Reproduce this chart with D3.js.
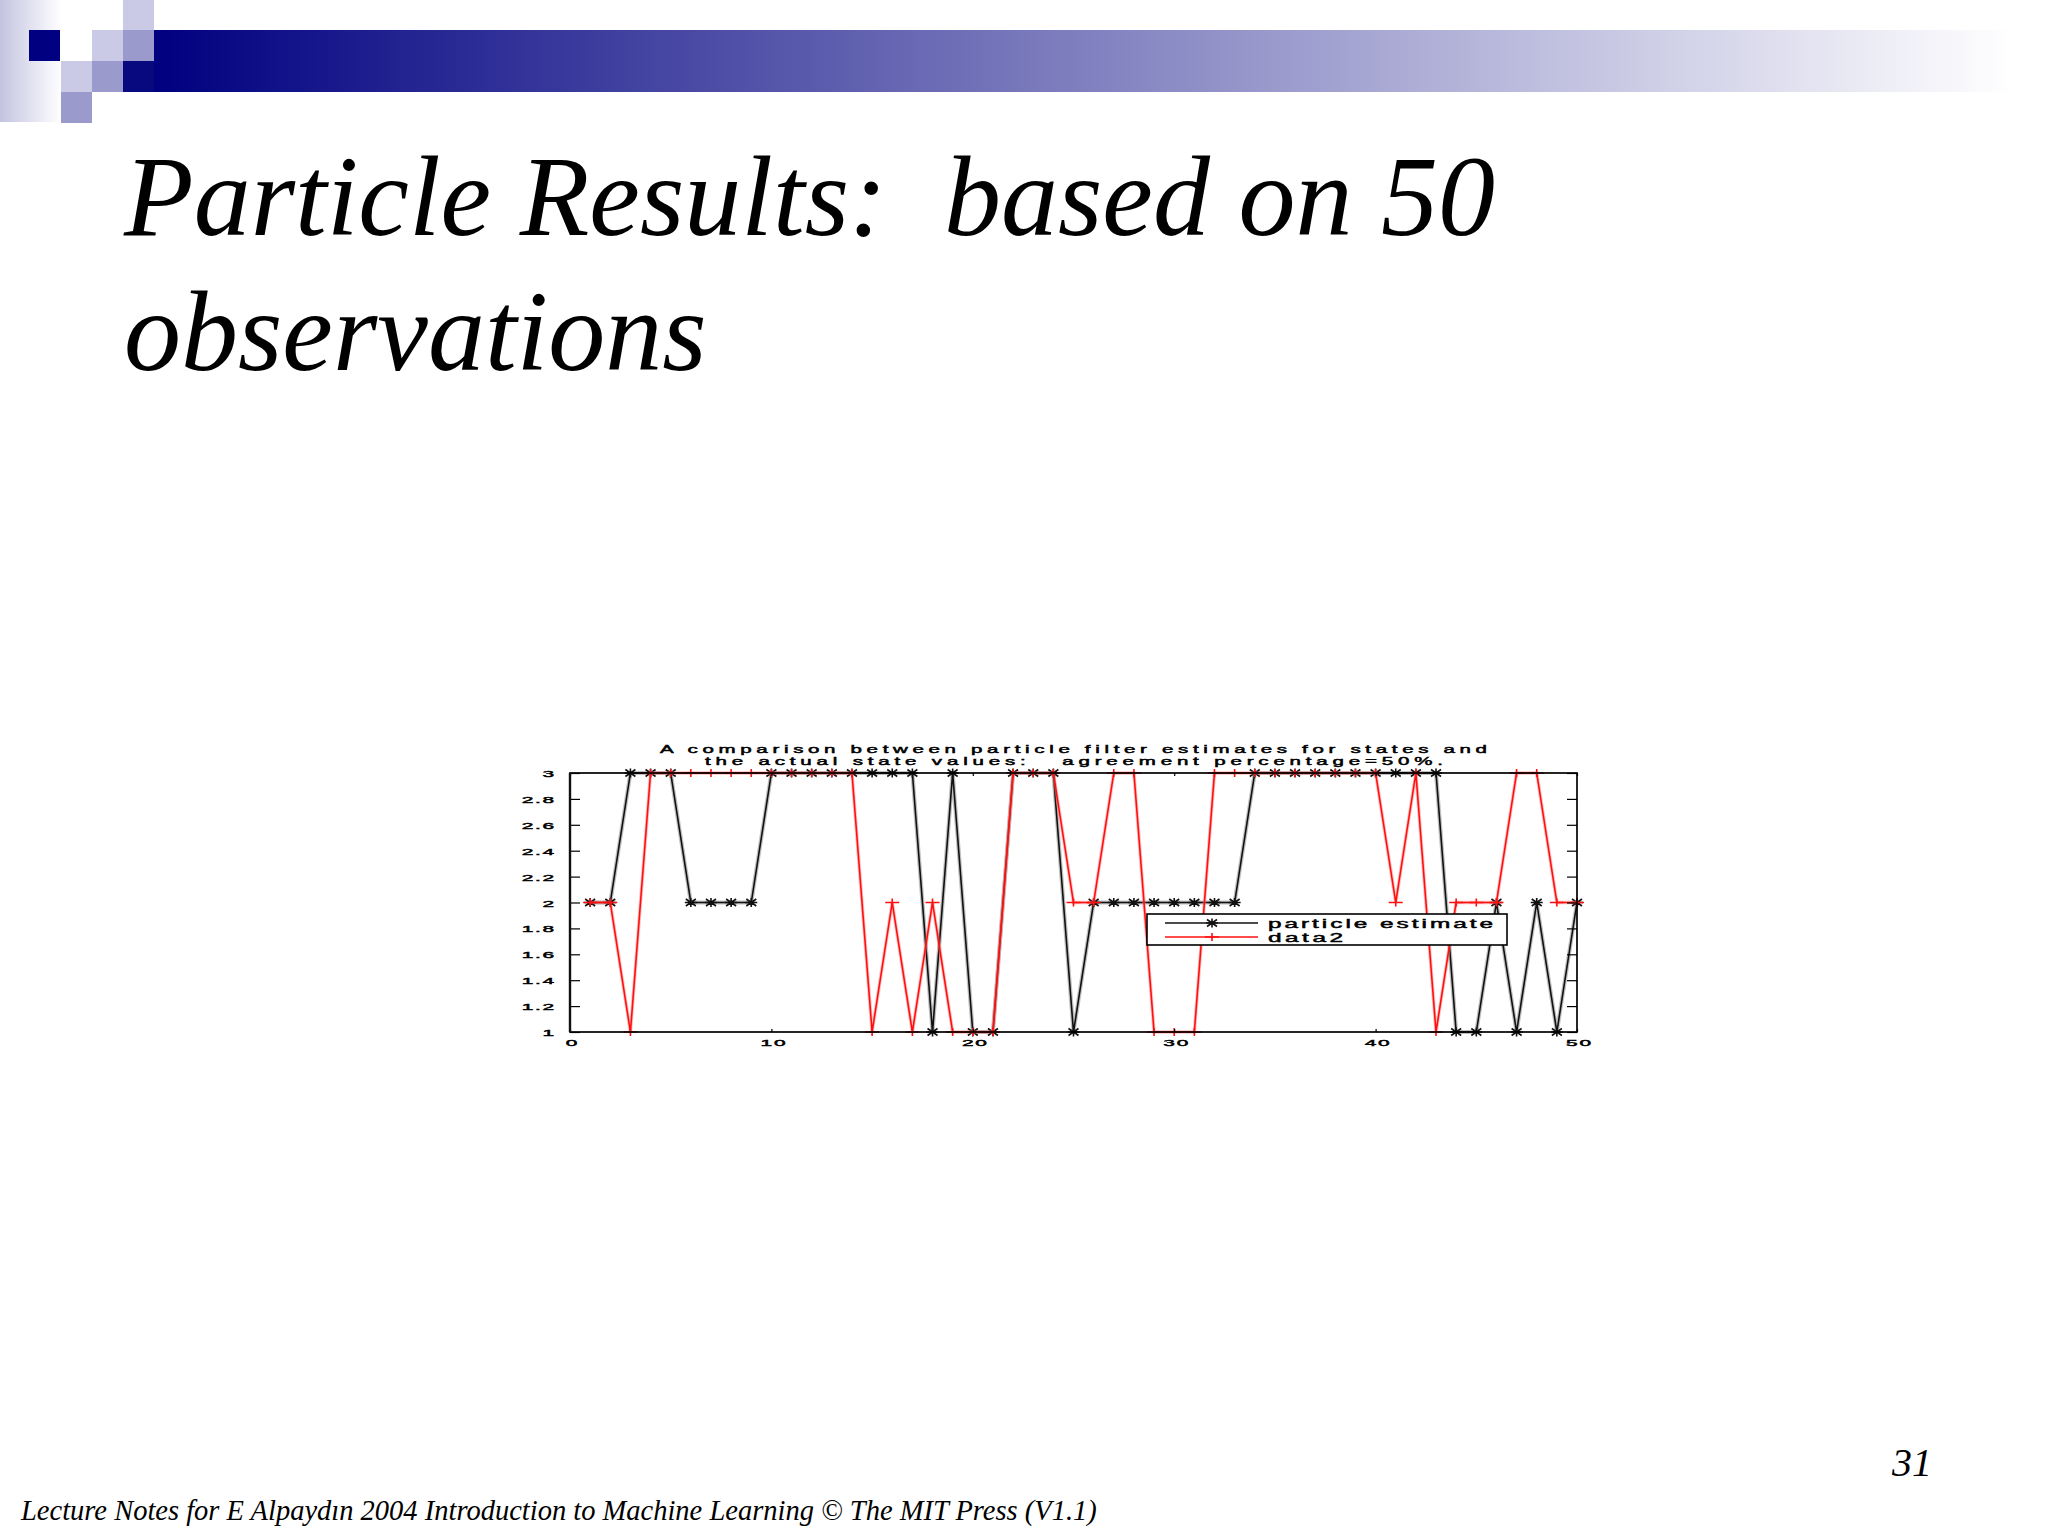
<!DOCTYPE html>
<html><head><meta charset="utf-8">
<script src="https://cdn.jsdelivr.net/npm/d3@7"></script>
<style>body{margin:0;background:#fff}svg{display:block}</style>
</head><body>
<svg id="c" width="2048" height="1536"></svg>
<script>
const slideTitle = ["Particle Results:  based on 50", "observations"];
const chartTitle = ["A comparison between particle filter estimates for states and",
                    "the actual state values:   agreement percentage=50%."];
const steps = [1,2,3,4,5,6,7,8,9,10,11,12,13,14,15,16,17,18,19,20,21,22,23,24,25,
               26,27,28,29,30,31,32,33,34,35,36,37,38,39,40,41,42,43,44,45,46,47,48,49,50];
const particleEstimate = [2,2,3,3,3,2,2,2,2,3, 3,3,3,3,3,3,3,1,3,1,
                          1,3,3,3,1,2,2,2,2,2, 2,2,2,3,3,3,3,3,3,3,
                          3,3,3,1,1,2,1,2,1,2];
const data2 = [2,2,1,3,3,3,3,3,3,3, 3,3,3,3,1,2,1,2,1,1,
               1,3,3,3,2,2,3,3,1,1, 1,3,3,3,3,3,3,3,3,3,
               2,3,1,2,2,2,3,3,2,2];
const xTicks = [0,10,20,30,40,50];
const yTicks = [1,1.2,1.4,1.6,1.8,2,2.2,2.4,2.6,2.8,3];
const legendLabels = ["particle estimate","data2"];
const footer = "Lecture Notes for E Alpaydın 2004 Introduction to Machine Learning © The MIT Press (V1.1)";
const pageNumber = "31";

const svg = d3.select("#c");
svg.append("rect").attr("width",2048).attr("height",1536).attr("fill","#fff");

// ---- slide header decoration ----
const defs = svg.append("defs");
const g1 = defs.append("linearGradient").attr("id","bar").attr("x1","0").attr("x2","1").attr("y1","0").attr("y2","0");
g1.append("stop").attr("offset","0").attr("stop-color","#000080");
g1.append("stop").attr("offset","1").attr("stop-color","#ffffff");
const g2 = defs.append("linearGradient").attr("id","side").attr("x1","0").attr("x2","1").attr("y1","0").attr("y2","0");
g2.append("stop").attr("offset","0").attr("stop-color","#c4c4e2");
g2.append("stop").attr("offset","1").attr("stop-color","#ffffff");

svg.append("rect").attr("x",0).attr("y",0).attr("width",62).attr("height",122).attr("fill","url(#side)");
svg.append("rect").attr("x",153).attr("y",30).attr("width",1860).attr("height",62).attr("fill","url(#bar)");
const pale = "#cacae6", mid = "#9a9acc", navy = "#000080";
[[29,30,navy],[61,61,pale],[61,92,mid],[92,30,pale],[92,61,mid],[123,0,pale],[123,30,mid],[123,61,"#08087f"]]
  .forEach(([px,py,c]) => svg.append("rect").attr("x",px).attr("y",py).attr("width",31).attr("height",31).attr("fill",c));

// ---- slide title ----
const st = svg.append("g").attr("font-family","'Liberation Serif','Times New Roman',serif")
  .attr("font-style","italic").attr("font-size",114).attr("fill","#000");
st.selectAll("text").data(slideTitle).join("text")
  .attr("x",124).attr("y",(d,i)=>235+i*135).style("white-space","pre").text(d=>d);

// ---- footer ----
svg.append("text").attr("x",21).attr("y",1520).attr("font-family","'Liberation Serif',serif")
  .attr("font-style","italic").attr("font-size",28.5).text(footer);
svg.append("text").attr("x",1932).attr("y",1476).attr("text-anchor","end").attr("font-family","'Liberation Serif',serif")
  .attr("font-style","italic").attr("font-size",40).text(pageNumber);

// ---- chart ----
const xS = d3.scaleLinear().domain([0,50]).range([570,1577]);
const yS = d3.scaleLinear().domain([1,3]).range([1032,773]);
const fontSans = "'Liberation Sans',Arial,Helvetica,sans-serif";
const fmt = d => String(d);
const boldish = sel => sel.attr("stroke","#000").attr("stroke-width",0.45).attr("paint-order","stroke");

const ch = svg.append("g");

// chart title
ch.append("g").selectAll("text").data(chartTitle).join("text")
  .attr("font-family",fontSans).attr("font-size",10.5).attr("fill","#000")
  .attr("transform",(d,i)=>`translate(${i===0?660:705},${752.5+i*12}) scale(1.95,1)`)
  .attr("textLength",(d,i)=>(i===0?827:738)/1.95).attr("lengthAdjust","spacing")
  .style("white-space","pre").text(d=>d).call(boldish);

// series
const line = d3.line().x((d,i)=>xS(steps[i])).y(d=>yS(d));
ch.append("path").datum(particleEstimate).attr("d",line).attr("fill","none")
  .attr("stroke","#8a8a8a").attr("stroke-width",4).attr("stroke-opacity",0.55);
ch.append("path").datum(particleEstimate).attr("d",line).attr("fill","none")
  .attr("stroke","#111").attr("stroke-width",1.6);
const starPath = "M-6,0H6M0,-4.5V4.5M-5,-3.5L5,3.5M-5,3.5L5,-3.5";
const plusPath = "M-7,0H7M0,-4V4";
ch.append("g").selectAll("path").data(particleEstimate).join("path")
  .attr("transform",(d,i)=>`translate(${xS(steps[i])},${yS(d)})`)
  .attr("d",starPath).attr("stroke","#111").attr("stroke-width",1.6).attr("fill","none");

ch.append("path").datum(data2).attr("d",line).attr("fill","none")
  .attr("stroke","#ff7070").attr("stroke-width",3.4).attr("stroke-opacity",0.45);
ch.append("path").datum(data2).attr("d",line).attr("fill","none")
  .attr("stroke","#ff1010").attr("stroke-width",1.6);
ch.append("g").selectAll("path").data(data2).join("path")
  .attr("transform",(d,i)=>`translate(${xS(steps[i])},${yS(d)})`)
  .attr("d",plusPath).attr("stroke","#ff1010").attr("stroke-width",1.6).attr("fill","none");

// axes
const styleAxis = g => { g.select(".domain").remove(); g.selectAll("line").attr("stroke","#000").attr("stroke-width",1.2); };
const axB = ch.append("g").attr("transform",`translate(0,${yS(1)})`)
  .call(d3.axisBottom(xS).tickValues(xTicks).tickSize(-3).tickFormat(fmt)).call(styleAxis);
axB.selectAll("text").attr("y",0).attr("dy",null).attr("x",null)
  .attr("font-family",fontSans).attr("font-size",9.5).attr("fill","#000")
  .attr("letter-spacing",0.8).attr("text-anchor","middle")
  .attr("transform","translate(2,14) scale(2.2,1)").call(boldish);
ch.append("g").attr("transform",`translate(0,${yS(3)})`)
  .call(d3.axisTop(xS).tickValues(xTicks).tickSize(-3).tickFormat("")).call(styleAxis);
const axL = ch.append("g").attr("transform",`translate(${xS(0)},0)`)
  .call(d3.axisLeft(yS).tickValues(yTicks).tickSize(-10).tickFormat(fmt)).call(styleAxis);
axL.selectAll("text").attr("x",null).attr("dy",null)
  .attr("font-family",fontSans).attr("font-size",9.5).attr("fill","#000")
  .attr("letter-spacing",0.8).attr("text-anchor","end")
  .attr("transform","translate(-14,3.5) scale(2.2,1)").call(boldish);
ch.append("g").attr("transform",`translate(${xS(50)},0)`)
  .call(d3.axisRight(yS).tickValues(yTicks).tickSize(-10).tickFormat("")).call(styleAxis);

// box
ch.append("rect").attr("x",xS(0)).attr("y",yS(3)).attr("width",xS(50)-xS(0)).attr("height",yS(1)-yS(3))
  .attr("fill","none").attr("stroke","#000").attr("stroke-width",1.7);
ch.append("line").attr("x1",xS(0)).attr("x2",xS(0)).attr("y1",yS(3)).attr("y2",yS(1))
  .attr("stroke","#111").attr("stroke-width",2.4);

// legend
const lg = ch.append("g");
lg.append("rect").attr("x",1147).attr("y",914).attr("width",360).attr("height",31)
  .attr("fill","#fff").attr("stroke","#000").attr("stroke-width",1.6);
const legColors = ["#111","#ff1010"], legMarks = [starPath, plusPath];
legendLabels.forEach((lab,i)=>{
  const ly = 923 + i*14;
  lg.append("line").attr("x1",1165).attr("x2",1258).attr("y1",ly).attr("y2",ly)
    .attr("stroke",legColors[i]).attr("stroke-width",1.4);
  lg.append("path").attr("d",legMarks[i]).attr("transform",`translate(1212,${ly})`)
    .attr("stroke",legColors[i]).attr("stroke-width",1.6).attr("fill","none");
  lg.append("text").attr("font-family",fontSans).attr("font-size",12.5).attr("fill","#000")
    .attr("transform",`translate(1268,${ly+4.5}) scale(1.95,1)`)
    .attr("textLength",(i===0?225:75)/1.95).attr("lengthAdjust","spacing").text(lab).call(boldish);
});
</script>
</body></html>
